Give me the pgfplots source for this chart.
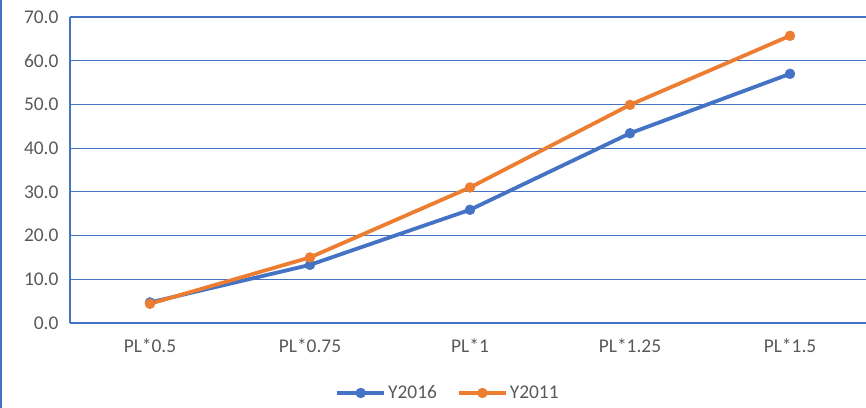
\documentclass[border=0pt]{standalone}
\usepackage{pgfplots}
\pgfplotsset{compat=1.18}
\usepackage{fontspec}
\setmainfont{Carlito}
\definecolor{xblue}{RGB}{68,114,196}
\definecolor{xorange}{RGB}{237,125,49}
\definecolor{xgray}{RGB}{89,89,89}
\begin{document}
\begin{tikzpicture}
\useasboundingbox (0,0) rectangle (866bp,408bp);
\draw[xblue, line width=1.2bp] (1bp,0) -- (1bp,408bp);
\begin{axis}[
  at={(70bp,85bp)}, anchor=south west,
  scale only axis, width=796bp, height=306bp,
  xmin=-0.5, xmax=4.475, ymin=0, ymax=70,
  xtick={0,1,2,3,4},
  xticklabels={PL*0.5,PL*0.75,PL*1,PL*1.25,PL*1.5},
  ytick={0,10,...,70},
  /pgf/number format/fixed, /pgf/number format/fixed zerofill,
  /pgf/number format/precision=1, /pgf/number format/assume math mode=true,
  major tick length=0,
  axis x line*=bottom, axis y line*=left,
  axis line style={xblue, line width=1.2bp, -},
  ymajorgrids, grid style={xblue, line width=1.2bp},
  tick label style={font=\fontsize{19.5}{22}\selectfont, text=xgray},
  yticklabel style={xshift=-8bp},
  xticklabel style={yshift=-12bp},
  clip=false,
  legend style={at={(378bp,-70bp)}, anchor=center, draw=none, fill=none,
    legend columns=2, font=\fontsize{19.5}{22}\selectfont, text=xgray,
    /tikz/every even column/.append style={column sep=18bp}},
  legend cell align=left,
  legend image code/.code={\draw[mark repeat=2,mark phase=2] plot coordinates {(0bp,0bp) (23.5bp,0bp) (47bp,0bp)};},
]
\addplot[xblue, line width=3.8bp, mark=*, mark size=5bp, mark options={line width=0.4bp}] coordinates {(0,4.7) (1,13.3) (2,25.9) (3,43.4) (4,57.0)};
\addlegendentry{Y2016}
\addplot[xorange, line width=3.8bp, mark=*, mark size=5bp, mark options={line width=0.4bp}] coordinates {(0,4.4) (1,15.0) (2,31.0) (3,49.9) (4,65.7)};
\addlegendentry{Y2011}
\end{axis}
\end{tikzpicture}
\end{document}
